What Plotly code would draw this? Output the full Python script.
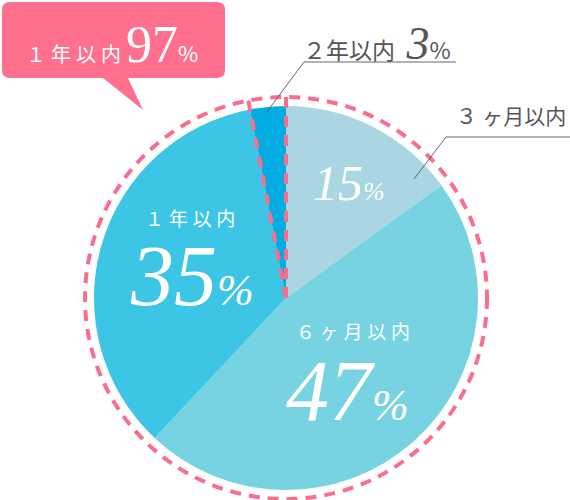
import numpy as np
import plotly.graph_objects as go

# data
labels = ["3ヶ月以内", "6ヶ月以内", "1年以内", "2年以内"]
values = [15, 47, 35, 3]
colors = ["#a9d6e1", "#77d3e1", "#3dc5e5", "#00ace2"]

W, H = 570, 500
cx, cy, r = 286, 298, 192   # pie centre / radius in px
pink = "#fb6d8d"
gray = "#555555"
jp = "Noto Sans CJK JP"
serif = "Liberation Serif"

fig = go.Figure()

fig.add_trace(go.Pie(
    labels=labels,
    values=values,
    marker=dict(colors=colors, line=dict(width=0)),
    sort=False,
    direction="clockwise",
    rotation=0,
    textinfo="none",
    hoverinfo="label+percent",
    showlegend=False,
    domain=dict(x=[(cx - r) / W, (cx + r) / W], y=[1 - (cy + r) / H, 1 - (cy - r) / H]),
))

# dummy trace so the pixel-like cartesian axes exist
fig.add_trace(go.Scatter(x=[], y=[], showlegend=False, hoverinfo="skip"))

shapes = []

# dashed ring round the pie
R = 201
shapes.append(dict(type="circle", xref="x", yref="y", x0=cx - R, x1=cx + R, y0=cy - R, y1=cy + R,
                   line=dict(color=pink, width=4, dash="11px,8px")))

# dashed edges of the "2年以内" slice (start of first slice and start of last slice)
cum = np.cumsum([0] + values) / sum(values)
for frac in [cum[0], cum[3]]:
    ang = 2 * np.pi * frac
    shapes.append(dict(type="line", xref="x", yref="y",
                       x0=cx, y0=cy, x1=cx + R * np.sin(ang), y1=cy - R * np.cos(ang),
                       line=dict(color=pink, width=4, dash="11px,8px")))

# leader lines
shapes.append(dict(type="path", xref="x", yref="y", path="M 266,113 L 304,62 L 456,62",
                   line=dict(color="#666666", width=1)))
shapes.append(dict(type="path", xref="x", yref="y", path="M 414,179 L 446,137 L 570,137",
                   line=dict(color="#666666", width=1)))

# speech bubble
shapes.append(dict(type="path", xref="x", yref="y",
                   path="M 10,2 L 217,2 Q 225,2 225,10 L 225,70 Q 225,78 217,78 L 128,78 "
                        "L 143,110 L 103,78 L 10,78 Q 2,78 2,70 L 2,10 Q 2,2 10,2 Z",
                   fillcolor="#ff6f8e", line=dict(width=0)))

sp = "\u2005"
annotations = [
    # bubble
    dict(x=112, y=44, text="１" + sp + "年" + sp + "以" + sp + "内" + sp
         + "<span style='font-family:" + serif + ";font-size:52px'>97</span>"
         + "<span style='font-size:22px'>%</span>",
         font=dict(family=jp, size=20, color="white")),
    # 2年以内 3%
    dict(x=453, y=43, xanchor="right", text="２年以内" + sp + sp
         + "<span style='font-family:" + serif + ";font-size:46px'><i>3</i></span>"
         + "<span style='font-size:23px'>%</span>",
         font=dict(family=jp, size=23, color=gray)),
    # 3ヶ月以内
    dict(x=568, y=115, xanchor="right", text="３" + sp + "ヶ月以内",
         font=dict(family=jp, size=21, color=gray)),
    # 15%
    dict(x=349, y=183, text="<i>15</i><span style='font-size:26px'><i>%</i></span>",
         font=dict(family=serif, size=50, color="white")),
    # 1年以内 35%
    dict(x=190, y=217, text="１" + sp + "年" + sp + "以" + sp + "内",
         font=dict(family=jp, size=19, color="white")),
    dict(x=192, y=276, text="<i>35</i><span style='font-size:44px'><i>%</i></span>",
         font=dict(family=serif, size=86, color="white")),
    # 6ヶ月以内 47%
    dict(x=353, y=330, text="６" + sp + "ヶ" + sp + "月" + sp + "以" + sp + "内",
         font=dict(family=jp, size=19, color="white")),
    dict(x=347, y=391, text="<i>47</i><span style='font-size:44px'><i>%</i></span>",
         font=dict(family=serif, size=86, color="white")),
]
for a in annotations:
    a.setdefault("xanchor", "center")
    a.update(xref="x", yref="y", showarrow=False, yanchor="middle")

fig.update_layout(
    width=W, height=H,
    margin=dict(l=0, r=0, t=0, b=0),
    paper_bgcolor="white",
    plot_bgcolor="rgba(0,0,0,0)",
    xaxis=dict(range=[0, W], visible=False, fixedrange=True),
    yaxis=dict(range=[H, 0], visible=False, fixedrange=True),
    shapes=shapes,
    annotations=annotations,
)

# drop the browser's default body margin so the figure sits at the page corner
fig.write_html("out.html", config={"displayModeBar": False},
               post_script="document.body.style.margin='0px';")
